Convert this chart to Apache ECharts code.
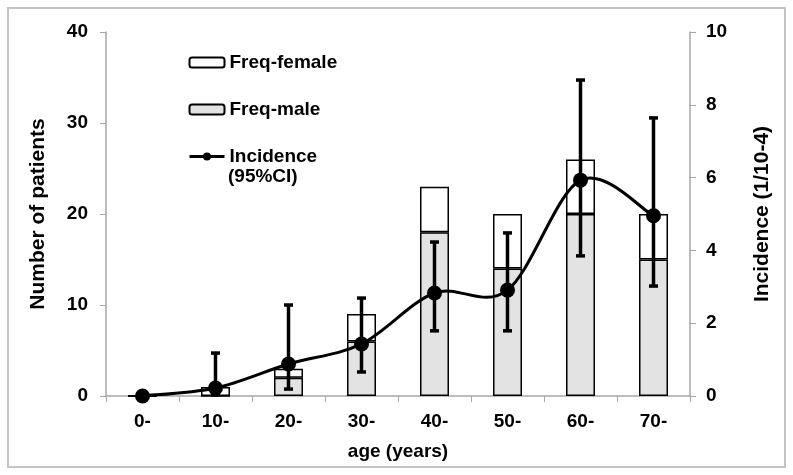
<!DOCTYPE html>
<html><head><meta charset="utf-8">
<script src="https://cdn.jsdelivr.net/npm/echarts@6/dist/echarts.min.js"></script>
<style>html,body{margin:0;padding:0;background:#fff}#c{width:793px;height:475px}</style>
</head><body><div id="c"></div>
<script>
const categories = ['0-','10-','20-','30-','40-','50-','60-','70-'];
const freqMale   = [0, 0, 2, 6, 18, 14, 20, 15];
const freqFemale = [0, 1, 1, 3, 5, 6, 6, 5];
const incidence  = [0, 0.22, 0.88, 1.43, 2.83, 2.91, 5.93, 4.95];
const ciLow      = [0, 0.03, 0.19, 0.66, 1.79, 1.79, 3.85, 3.02];
const ciHigh     = [0, 1.18, 2.50, 2.69, 4.23, 4.48, 8.68, 7.64];
const leftTicks  = [0, 10, 20, 30, 40];
const rightTicks = [0, 2, 4, 6, 8, 10];

const FONT = 'Liberation Sans, Arial, sans-serif';
const axisGray = '#a6a6a6';
const errData = categories.map((c, i) => [i, ciLow[i], ciHigh[i]]);
const segData = categories.slice(0, -1).map((c, i) => [i, incidence[i]]);

const chart = echarts.init(document.getElementById('c'), null, {renderer: 'canvas'});
chart.setOption({
  animation: false,
  backgroundColor: '#fff',
  textStyle: {fontFamily: FONT},
  grid: {left: 106, right: 103, top: 32, bottom: 79},
  legend: {
    orient: 'vertical', left: 183, top: 48, itemGap: 28,
    itemWidth: 35, itemHeight: 10,
    textStyle: {fontFamily: FONT, fontWeight: 'bold', fontSize: 19, color: '#000'},
    data: [
      {name: 'Freq-female'},
      {name: 'Freq-male'},
      {name: 'Incidence', lineStyle: {color: '#000', width: 3, opacity: 1}, itemStyle: {color: '#000'}}
    ]
  },
  graphic: [
    {type: 'rect', shape: {x: 8, y: 8, width: 777, height: 459}, style: {fill: 'none', stroke: '#c4c4c4', lineWidth: 2}, silent: true},
    {type: 'text', left: 228, top: 167, style: {text: '(95%CI)', fontFamily: FONT, fontWeight: 'bold', fontSize: 19, fill: '#000'}}
  ],
  xAxis: {
    type: 'category', data: categories, boundaryGap: true,
    axisLine: {lineStyle: {color: axisGray, width: 1.5}},
    axisTick: {show: true, length: 6, lineStyle: {color: axisGray}},
    axisLabel: {fontFamily: FONT, fontWeight: 'bold', fontSize: 19, color: '#000', margin: 16},
    name: 'age (years)', nameLocation: 'middle', nameGap: 46,
    nameTextStyle: {fontFamily: FONT, fontWeight: 'bold', fontSize: 19, color: '#000'}
  },
  yAxis: [
    {
      type: 'value', min: 0, max: 40, interval: 10,
      axisLine: {show: true, lineStyle: {color: axisGray, width: 1.5}},
      axisTick: {show: true, length: 6, lineStyle: {color: axisGray}},
      splitLine: {show: false},
      axisLabel: {fontFamily: FONT, fontWeight: 'bold', fontSize: 19, color: '#000', margin: 18},
      name: 'Number of patients', nameLocation: 'middle', nameGap: 57, nameRotate: 90,
      nameTextStyle: {fontFamily: FONT, fontWeight: 'bold', fontSize: 21, color: '#000'}
    },
    {
      type: 'value', min: 0, max: 10, interval: 2, position: 'right',
      axisLine: {show: true, lineStyle: {color: axisGray, width: 1.5}},
      axisTick: {show: true, length: 6, lineStyle: {color: axisGray}},
      splitLine: {show: false},
      axisLabel: {fontFamily: FONT, fontWeight: 'bold', fontSize: 19, color: '#000', margin: 16},
      name: 'Incidence (1/10-4)', nameLocation: 'middle', nameGap: 62, nameRotate: 90,
      nameTextStyle: {fontFamily: FONT, fontWeight: 'bold', fontSize: 21, color: '#000'}
    }
  ],
  series: [
    {
      name: 'Freq-male', type: 'bar', stack: 'f', data: freqMale, barWidth: 29,
      itemStyle: {color: '#e3e3e3', borderColor: '#000', borderWidth: 1.5}, z: 2
    },
    {
      name: 'Freq-female', type: 'bar', stack: 'f', data: freqFemale, barWidth: 29,
      itemStyle: {color: '#fff', borderColor: '#000', borderWidth: 1.5}, z: 2
    },
    {
      name: 'errbar', type: 'custom', yAxisIndex: 1, data: errData, z: 4,
      renderItem: function (params, api) {
        const x = api.value(0);
        const lo = api.coord([x, api.value(1)]);
        const hi = api.coord([x, api.value(2)]);
        const w = 4.5;
        const st = {stroke: '#000', lineWidth: 3.5};
        return {type: 'group', children: [
          {type: 'line', shape: {x1: lo[0], y1: lo[1], x2: hi[0], y2: hi[1]}, style: st},
          {type: 'line', shape: {x1: hi[0]-w, y1: hi[1], x2: hi[0]+w, y2: hi[1]}, style: st},
          {type: 'line', shape: {x1: lo[0]-w, y1: lo[1], x2: lo[0]+w, y2: lo[1]}, style: st}
        ]};
      }
    },
    {
      name: 'curve', type: 'custom', yAxisIndex: 1, data: segData, z: 5,
      renderItem: function (params, api) {
        const i = api.value(0);
        const n = incidence.length;
        const P = k => api.coord([Math.max(0, Math.min(n - 1, k)), incidence[Math.max(0, Math.min(n - 1, k))]]);
        const p0 = P(i - 1), p1 = P(i), p2 = P(i + 1), p3 = P(i + 2);
        const t = 1 / 6;
        const c1 = [p1[0] + (p2[0] - p0[0]) * t, p1[1] + (p2[1] - p0[1]) * t];
        const c2 = [p2[0] - (p3[0] - p1[0]) * t, p2[1] - (p3[1] - p1[1]) * t];
        return {type: 'bezierCurve', shape: {x1: p1[0], y1: p1[1], x2: p2[0], y2: p2[1],
          cpx1: c1[0], cpy1: c1[1], cpx2: c2[0], cpy2: c2[1]},
          style: {stroke: '#000', lineWidth: 3, fill: 'none'}};
      }
    },
    {
      name: 'Incidence', type: 'line', yAxisIndex: 1, data: incidence,
      symbol: 'circle', symbolSize: 15,
      lineStyle: {color: '#000', width: 3, opacity: 0}, itemStyle: {color: '#000'}, z: 6
    }
  ]
});
</script></body></html>
